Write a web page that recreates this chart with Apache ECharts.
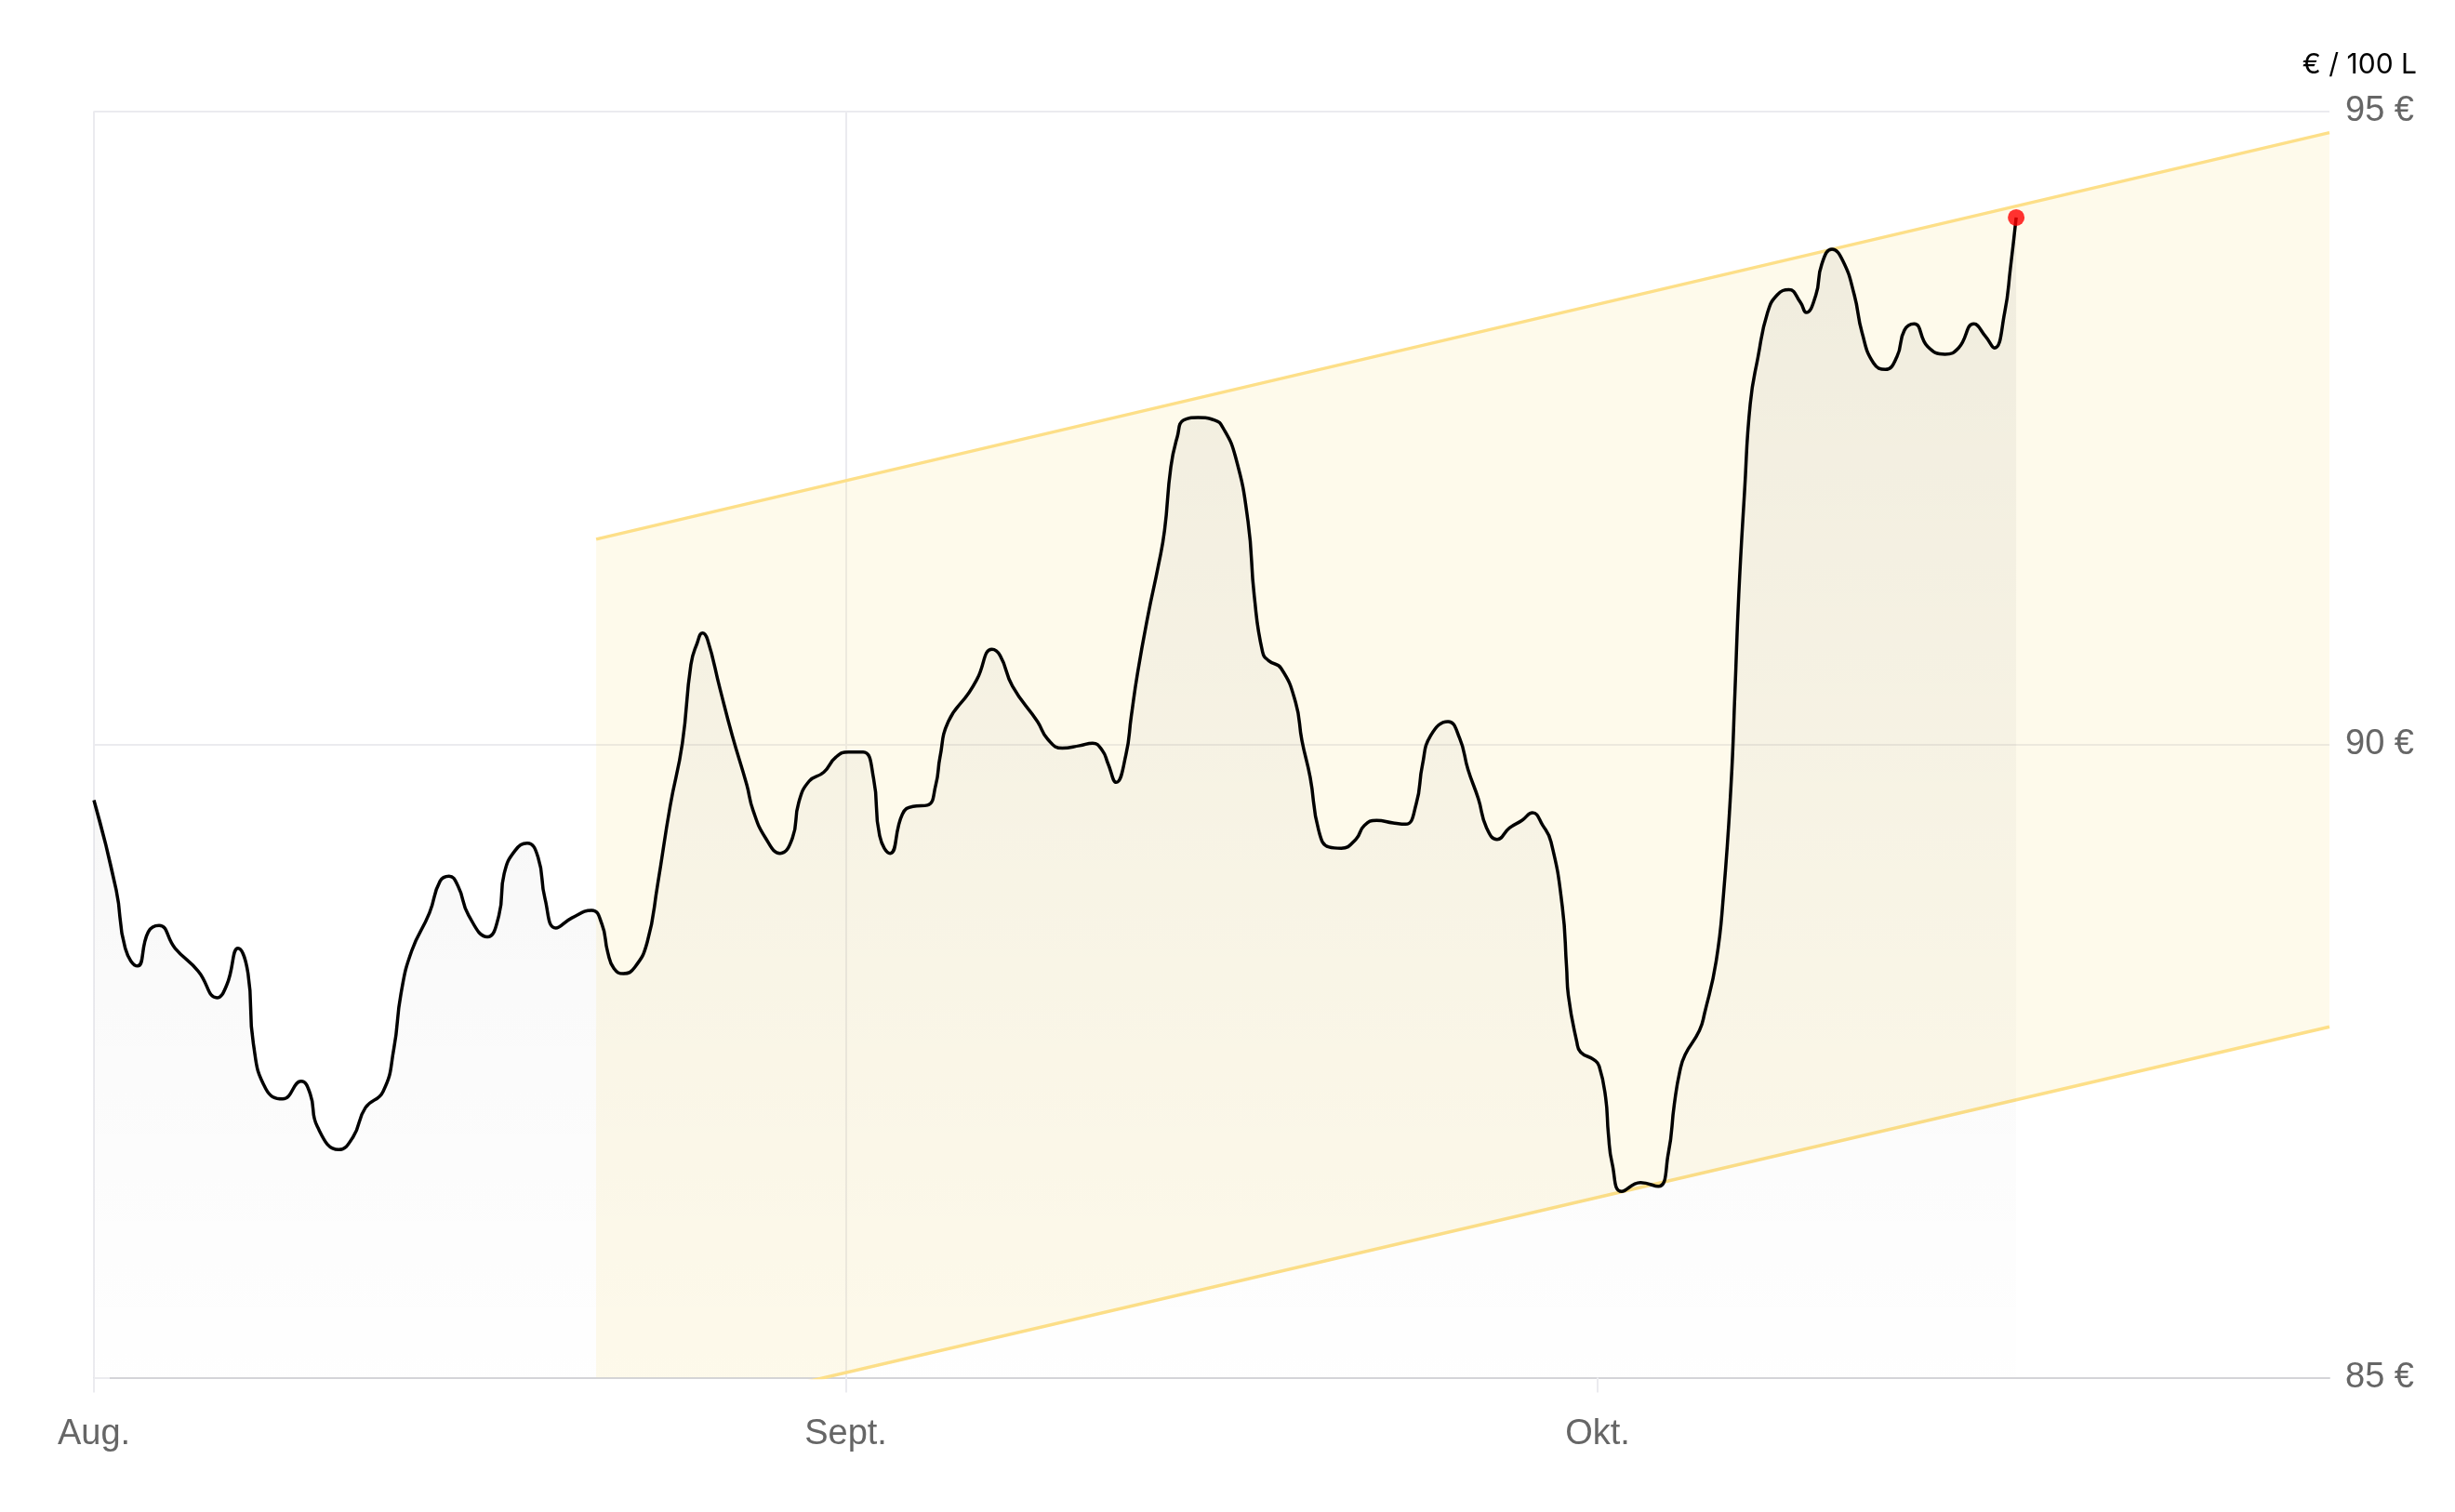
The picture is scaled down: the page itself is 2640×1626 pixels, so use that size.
<!DOCTYPE html>
<html>
<head>
<meta charset="utf-8">
<script src="https://cdn.jsdelivr.net/npm/echarts@6/dist/echarts.min.js"></script>
<style>
  html, body { margin: 0; padding: 0; background: #ffffff; }
  #chart { width: 2640px; height: 1626px; }
</style>
</head>
<body>
<div id="chart"></div>
<script>
// x: days since 1 Aug (one month drawn as 30 units), y: € per 100 L
const days = [0, 0.89, 1.25, 1.74, 2.17, 2.60, 3.24, 4.16, 4.91, 5.30,
  5.75, 6.15, 6.36, 6.86, 7.53, 8.27, 8.63, 8.92, 9.77, 10.34,
  10.83, 11.54, 11.97, 12.25, 12.68, 13.39, 13.81, 14.17, 14.53, 14.95,
  15.70, 16.16, 16.37, 16.80, 17.29, 17.72, 18.00, 18.43, 19.07, 19.86,
  20.27, 20.50, 20.75, 21.13, 21.58, 22.08, 22.49, 22.99, 23.48, 23.82,
  24.07, 24.28, 24.48, 24.98, 25.47, 26.05, 26.30, 26.80, 27.38, 27.87,
  28.12, 28.54, 29.12, 29.61, 30.11, 30.69, 31.11, 31.35, 31.77, 32.26,
  32.68, 33.26, 33.59, 33.76, 34.09, 34.92, 35.25, 35.83, 36.16, 36.65,
  37.65, 38.06, 38.64, 39.33, 39.85, 40.24, 40.46, 40.79, 41.18, 41.39,
  41.64, 42.06, 42.47, 42.72, 42.97, 43.23, 43.48, 44.06, 44.72, 45.05,
  45.55, 46.05, 46.30, 46.63, 46.88, 47.37, 47.95, 48.20, 48.53, 48.87,
  49.28, 49.77, 50.35, 50.69, 51.18, 51.84, 52.34, 52.76, 53.01, 53.34,
  54.03, 54.49, 54.83, 55.24, 55.57, 55.99, 56.48, 56.98, 57.40, 57.81,
  58.14, 58.59, 58.76, 58.83, 59.17, 59.32, 59.85, 60.06, 60.32, 60.43,
  60.58, 60.96, 61.71, 62.42, 62.82, 63.06, 63.28, 63.49, 64.06, 64.27,
  64.73, 65.02, 65.32, 65.48, 65.63, 65.86, 66.09, 66.40, 66.78, 67.17,
  67.63, 68.09, 68.32, 68.71, 68.94, 69.35, 69.78, 70.24, 70.55, 71.01,
  71.48, 71.94, 72.24, 72.63, 73.17, 73.86, 74.40, 75.01, 75.48, 75.83,
  76.24, 76.47, 76.70];

const prices = [89.56, 88.85, 88.39, 88.25, 88.52, 88.57, 88.39, 88.21, 88.00, 88.10,
  88.39, 88.19, 87.64, 87.28, 87.20, 87.34, 87.24, 86.98, 86.80, 86.90,
  87.13, 87.26, 87.60, 88.03, 88.37, 88.67, 88.92, 88.96, 88.88, 88.65,
  88.48, 88.65, 88.98, 89.16, 89.22, 89.11, 88.78, 88.55, 88.63, 88.69,
  88.58, 88.36, 88.23, 88.19, 88.24, 88.44, 88.89, 89.51, 90.01, 90.63,
  90.80, 90.88, 90.83, 90.44, 90.07, 89.68, 89.48, 89.26, 89.14, 89.26,
  89.54, 89.71, 89.78, 89.90, 89.94, 89.94, 89.73, 89.28, 89.14, 89.45,
  89.51, 89.52, 89.68, 89.90, 90.18, 90.41, 90.52, 90.75, 90.70, 90.46,
  90.18, 90.04, 89.97, 89.99, 90.01, 89.95, 89.85, 89.70, 89.92, 90.22,
  90.56, 91.02, 91.41, 91.69, 92.19, 92.43, 92.56, 92.58, 92.56, 92.50,
  92.27, 91.76, 91.17, 90.73, 90.66, 90.60, 90.33, 90.03, 89.74, 89.32,
  89.19, 89.18, 89.25, 89.36, 89.40, 89.38, 89.37, 89.53, 89.84, 90.07,
  90.18, 90.05, 89.80, 89.57, 89.34, 89.25, 89.34, 89.40, 89.46, 89.36,
  89.23, 88.72, 88.24, 88.02, 87.65, 87.57, 87.51, 87.46, 87.21, 86.92,
  86.69, 86.47, 86.54, 86.51, 86.77, 87.16, 87.42, 87.55, 87.74, 87.88,
  88.29, 88.81, 89.67, 90.42, 91.18, 91.99, 92.69, 93.06, 93.41, 93.55,
  93.59, 93.49, 93.41, 93.55, 93.79, 93.91, 93.82, 93.55, 93.25, 93.01,
  92.96, 93.06, 93.27, 93.32, 93.14, 93.08, 93.13, 93.32, 93.22, 93.13,
  93.41, 93.76, 94.16];

// trend channel (start day, end day) with its upper and lower bounds
const channelDays = [20.04, 89.2];
const channelUpper = [91.62, 94.83];
const channelLower = [84.58, 87.77];

// axis ticks
const monthTicks = [0, 30, 60];
const monthLabels = ['Aug.', 'Sept.', 'Okt.'];
const priceTicks = [85, 90, 95];
const unitLabel = '€ / 100 L';

const seriesData = days.map((d, i) => [d, prices[i]]);
const lowerData = channelDays.map((d, i) => [d, channelLower[i]]);
const upperData = channelDays.map((d, i) => [d, channelUpper[i]]);
const channelPolygon = [[channelDays[0], channelLower[0], channelUpper[0], channelDays[1], channelLower[1], channelUpper[1]]];
const last = seriesData[seriesData.length - 1];

const FONT = "'Liberation Sans', Arial, sans-serif";
const GRID_COLOR = '#ebebef';
const BAND_LINE = '#fddf88';

const chart = echarts.init(document.getElementById('chart'), null, { renderer: 'canvas' });
chart.setOption({
  animation: false,
  backgroundColor: '#ffffff',
  grid: { left: 101, right: 135, top: 119.5, bottom: 144.5, containLabel: false },
  graphic: [{
    type: 'text',
    right: 41,
    top: 55,
    style: { text: unitLabel, fill: '#000000', font: "30px 'Inter', 'Liberation Sans', sans-serif" }
  }],
  xAxis: {
    type: 'value',
    min: 0,
    max: channelDays[1],
    interval: 30,
    axisLine: { show: true, onZero: false, lineStyle: { color: '#d4d4d8', width: 2 } },
    axisTick: { show: true, length: 16, customValues: monthTicks, lineStyle: { color: GRID_COLOR, width: 2 } },
    axisLabel: {
      show: true,
      customValues: monthTicks,
      margin: 42,
      fontSize: 38,
      fontFamily: FONT,
      color: '#666666',
      formatter: v => {
        const idx = monthTicks.indexOf(Math.round(v));
        return idx >= 0 ? monthLabels[idx] : '';
      }
    },
    splitLine: { show: true, showMaxLine: false, lineStyle: { color: GRID_COLOR, width: 2 } }
  },
  yAxis: {
    type: 'value',
    position: 'right',
    min: priceTicks[0],
    max: priceTicks[priceTicks.length - 1],
    interval: 5,
    axisLine: { show: false },
    axisTick: { show: true, length: 17, lineStyle: { color: GRID_COLOR, width: 2 } },
    axisLabel: {
      margin: 17,
      fontSize: 38,
      fontFamily: FONT,
      color: '#666666',
      padding: [3, 0, 0, 0],
      formatter: v => v + ' €'
    },
    splitLine: { show: true, lineStyle: { color: GRID_COLOR, width: 2 } }
  },
  series: [
    {
      type: 'custom',
      name: 'channel',
      data: channelPolygon,
      clip: true,
      silent: true,
      z: 1,
      renderItem: (params, api) => {
        const x0 = api.value(0), lo0 = api.value(1), up0 = api.value(2);
        const x1 = api.value(3), lo1 = api.value(4), up1 = api.value(5);
        const pts = [api.coord([x0, lo0]), api.coord([x1, lo1]), api.coord([x1, up1]), api.coord([x0, up0])];
        const cs = params.coordSys;
        return {
          type: 'group',
          children: [{
            type: 'polygon',
            shape: { points: pts },
            style: { fill: 'rgba(252, 226, 150, 0.19)' }
          }],
          clipPath: { type: 'rect', shape: { x: cs.x, y: cs.y, width: cs.width, height: cs.height } }
        };
      }
    },
    {
      type: 'line',
      name: 'lower',
      data: lowerData,
      symbol: 'none',
      lineStyle: { color: BAND_LINE, width: 3.5 },
      silent: true,
      z: 1
    },
    {
      type: 'line',
      name: 'upper',
      data: upperData,
      symbol: 'none',
      lineStyle: { color: BAND_LINE, width: 3.5 },
      silent: true,
      z: 1
    },
    {
      type: 'line',
      name: 'price',
      data: seriesData,
      smooth: 0.5,
      symbol: 'none',
      lineStyle: { color: '#000000', width: 3.5 },
      areaStyle: {
        origin: 'start',
        color: new echarts.graphic.LinearGradient(0, 0, 0, 1, [
          { offset: 0, color: 'rgba(0,0,0,0.08)' },
          { offset: 1, color: 'rgba(0,0,0,0.005)' }
        ])
      },
      z: 2
    },
    {
      type: 'scatter',
      data: [last],
      symbol: 'circle',
      symbolSize: 18,
      itemStyle: { color: '#ff0000' },
      z: 3
    }
  ]
});
</script>
</body>
</html>
